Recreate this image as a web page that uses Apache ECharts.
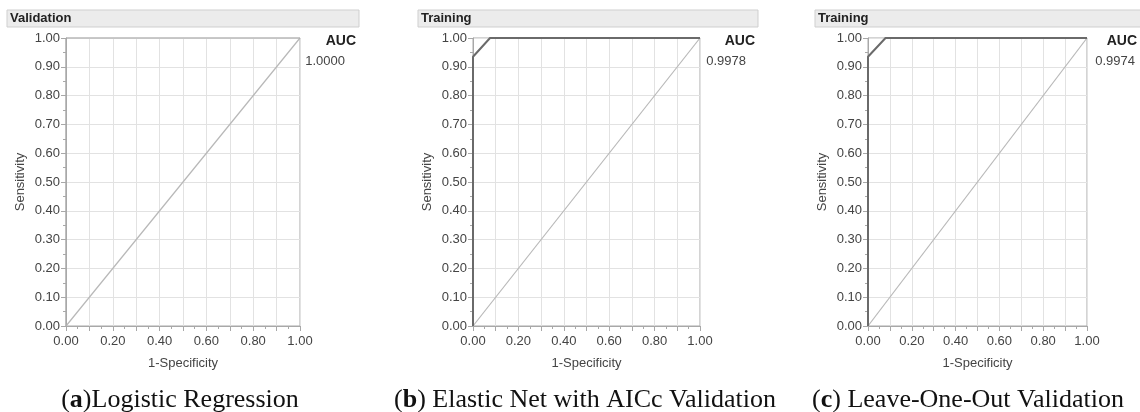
<!doctype html>
<html>
<head>
<meta charset="utf-8"/>
<title>ROC curves</title>
<script src="https://cdn.jsdelivr.net/npm/echarts@6/dist/echarts.min.js"></script>
<style>
*{margin:0;padding:0;}
body{background:#ffffff;}
#main{width:1140px;height:412px;}
</style>
</head>
<body>
<div id="main"></div>
<script type="text/javascript">
// panel texts
var panelHeaders = ['Validation', 'Training', 'Training'];
var aucValues = ['1.0000', '0.9978', '0.9974'];
var captionLetters = ['a', 'b', 'c'];
var captionTexts = ['Logistic Regression', ' Elastic Net with AICc Validation', ' Leave-One-Out Validation'];

// ROC points [1-specificity, sensitivity]
var rocA = [[0, 0], [0, 1], [1, 1]];
var rocB = [[0, 0], [0, 0.935], [0.075, 1], [1, 1]];
var rocC = [[0, 0], [0, 0.935], [0.08, 1], [1, 1]];
var diagonal = [[0, 0], [1, 1]];

var chart = echarts.init(document.getElementById('main'));

// layout of the three plots (pixels)
var plots = [
  {left: 66, width: 234, head: [7, 352], auc: 356, val: 345, cap: 180},
  {left: 473, width: 227, head: [418, 340], auc: 755, val: 746, cap: 585},
  {left: 868, width: 219, head: [815, 330], auc: 1137, val: 1135, cap: 968}
];
var rocs = [rocA, rocB, rocC];

var grids = [], xAxes = [], yAxes = [], series = [], graphics = [];
var axisGrey = '#a8a8a8';
var labelFont = {color: '#444', fontSize: 13, fontFamily: 'Liberation Sans'};

plots.forEach(function (p, i) {
  grids.push({left: p.left, width: p.width, top: 38, height: 288,
    show: true, borderColor: axisGrey, borderWidth: 1});
  xAxes.push({
    type: 'value', gridIndex: i, min: 0, max: 1, interval: 0.1,
    name: '1-Specificity', nameLocation: 'middle', nameGap: 31,
    nameTextStyle: {color: '#444', fontSize: 13, fontFamily: 'Liberation Sans'},
    axisLine: {lineStyle: {color: axisGrey}},
    axisTick: {length: 5, lineStyle: {color: axisGrey}},
    minorTick: {show: true, splitNumber: 2, length: 3, lineStyle: {color: axisGrey}},
    splitLine: {lineStyle: {color: '#e2e2e2'}},
    axisLabel: Object.assign({margin: 9, formatter: function (v) {
      return Math.round(v * 10) % 2 === 0 ? v.toFixed(2) : '';
    }}, labelFont)
  });
  yAxes.push({
    type: 'value', gridIndex: i, min: 0, max: 1, interval: 0.1,
    name: 'Sensitivity', nameLocation: 'middle', nameGap: 39,
    nameTextStyle: {color: '#444', fontSize: 13, fontFamily: 'Liberation Sans'},
    axisLine: {show: true, lineStyle: {color: axisGrey}},
    axisTick: {show: true, length: 5, lineStyle: {color: axisGrey}},
    minorTick: {show: true, splitNumber: 2, length: 3, lineStyle: {color: axisGrey}},
    splitLine: {lineStyle: {color: '#e2e2e2'}},
    axisLabel: Object.assign({margin: 6, formatter: function (v) { return v.toFixed(2); }}, labelFont)
  });
  series.push({
    type: 'line', xAxisIndex: i, yAxisIndex: i, data: diagonal,
    symbol: 'none', silent: true,
    lineStyle: {color: '#b8b8b8', width: 1.2}
  });
  series.push({
    type: 'line', xAxisIndex: i, yAxisIndex: i, data: rocs[i],
    symbol: 'none', silent: true,
    lineStyle: {color: i === 0 ? axisGrey : '#6a6a6a', width: i === 0 ? 1 : 2}
  });

  // header bar
  graphics.push({type: 'rect', shape: {x: p.head[0], y: 10, width: p.head[1], height: 17},
    style: {fill: '#ececec', stroke: '#cfcfcf', lineWidth: 1}});
  graphics.push({type: 'text', x: p.head[0] + 3, y: 18.5,
    style: {text: panelHeaders[i], fill: '#222', font: 'bold 13px "Liberation Sans"', verticalAlign: 'middle'}});
  // AUC block
  graphics.push({type: 'text', x: p.auc, y: 41,
    style: {text: 'AUC', fill: '#222', font: 'bold 14px "Liberation Sans"', align: 'right', verticalAlign: 'middle'}});
  graphics.push({type: 'text', x: p.val, y: 61,
    style: {text: aucValues[i], fill: '#444', font: '13px "Liberation Sans"', align: 'right', verticalAlign: 'middle'}});
  // caption
  graphics.push({type: 'text', x: p.cap, y: 400,
    style: {
      text: '(' + '{b|' + captionLetters[i] + '})' + captionTexts[i],
      rich: {b: {fontWeight: 'bold', fontSize: 26, fontFamily: 'Liberation Serif', fill: '#111'}},
      fill: '#111', font: '26px "Liberation Serif"', align: 'center', verticalAlign: 'middle'
    }});
});

var option = {
  animation: false,
  grid: grids,
  xAxis: xAxes,
  yAxis: yAxes,
  series: series,
  graphic: graphics
};
chart.setOption(option);
</script>
</body>
</html>
